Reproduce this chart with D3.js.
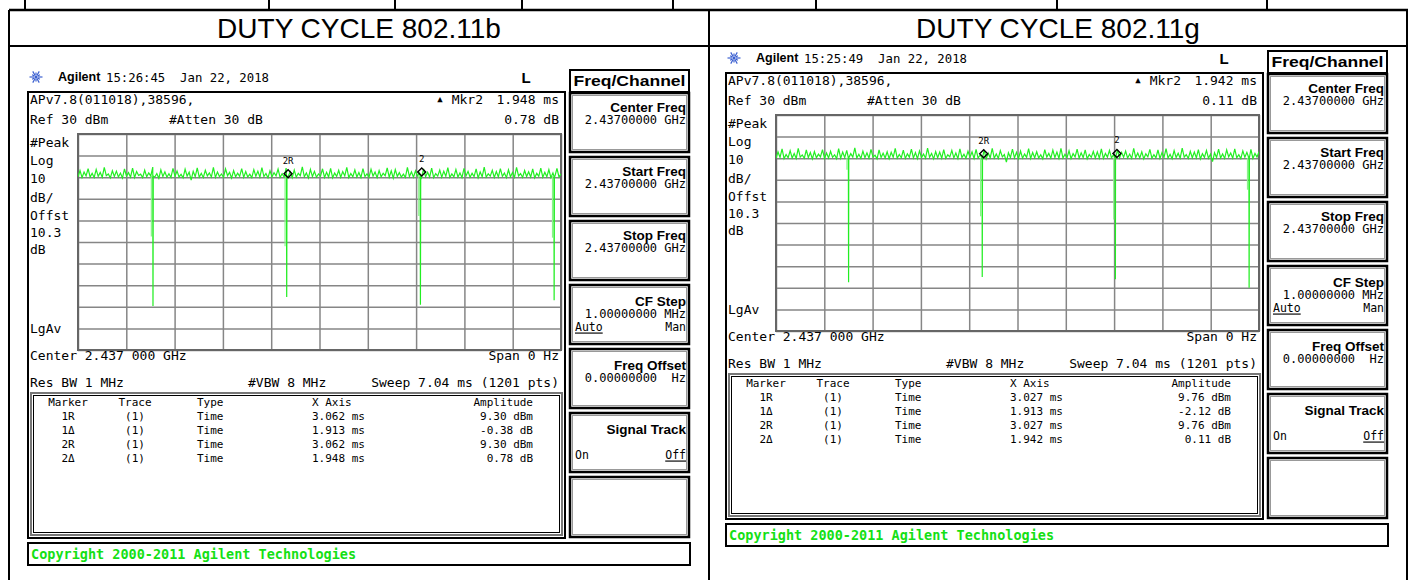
<!DOCTYPE html>
<html lang="en">
<head>
<meta charset="UTF-8">
<title>Duty Cycle 802.11b / 802.11g</title>
<script src="https://d3js.org/d3.v7.min.js"></script>
<style>
  body { margin: 0; background: #fff; }
  text { white-space: pre; }
</style>
</head>
<body>
<svg width="1413" height="580"></svg>
<script>
const panelTitles = ["DUTY CYCLE 802.11b", "DUTY CYCLE 802.11g"];
const timeStamps = ["15:26:45  Jan 22, 2018", "15:25:49  Jan 22, 2018"];
const deltaTime = ["1.948 ms", "1.942 ms"];
const deltaAmp = ["0.78 dB", "0.11 dB"];
const sweepMs = 7.04;
const refDbm = 30;
const dbPerDiv = 10;
const divisions = 10;

// trace samples (dBm), evenly spaced over the sweep
const noise11b = [
  10.2, 13.1, 9.8, 12.4, 10.6, 14.0, 10.1, 11.8, 9.9, 13.6, 10.4, 12.2, 10.0, 14.5, 10.7, 11.5, 9.7, 13.0, 10.3, 12.8,
  10.1, 11.9, 9.6, 13.8, 10.5, 12.1, 10.0, 14.2, 9.9, 12.6, 10.8, 11.4, 9.8, 13.3, 10.2, 12.0, 10.6, 14.7, 10.1, 11.7,
  9.5, 13.4, 10.3, 12.5, 10.0, 11.6, 9.9, 14.1, 10.4, 12.9, 10.1, 11.3, 9.7, 13.7, 10.5, 12.3, 8.6, 12.7, 10.2, 14.3,
  10.0, 11.8, 9.8, 13.2, 10.6, 12.0, 10.1, 14.6, 9.9, 12.4, 10.3, 11.5, 10.0, 13.9, 10.7, 12.2, 9.6, 13.1, 10.2, 11.9,
  10.4, 14.0, 9.9, 12.6, 10.1, 11.4, 9.8, 13.5, 10.5, 12.8, 10.0, 14.4, 10.3, 11.7, 9.7, 13.0, 10.2, 12.1, 10.6, 13.8,
  9.9, 11.6, 10.1, 14.2, 10.4, 12.5, 9.8, 13.3, 10.0, 11.8, 10.7, 14.8, 10.2, 12.0, 9.6, 13.6, 10.3, 12.7, 10.0, 11.5,
  10.5, 13.9, 9.9, 12.3, 10.1, 14.1, 9.7, 11.9, 10.4, 13.2, 10.0, 12.6, 10.6, 14.5, 9.8, 11.7, 10.2, 13.4, 10.1, 12.2,
  9.9, 14.0, 10.3, 11.6, 10.0, 13.7, 10.5, 12.4, 9.8, 13.1, 10.2, 11.8, 10.7, 14.3, 10.0, 12.9, 9.6, 13.5, 10.4, 12.1,
  10.1, 11.4, 9.9, 14.6, 10.3, 12.5, 10.0, 13.0, 10.6, 11.9, 9.7, 13.8, 10.2, 12.3, 10.1, 14.2, 9.8, 11.7, 10.5, 13.3,
  10.0, 12.8, 10.4, 14.4, 9.9, 11.5, 10.2, 13.6, 10.1, 12.0, 9.8, 14.1, 10.6, 12.7, 10.0, 11.8, 10.3, 13.9, 9.7, 12.4,
  10.2, 14.7, 10.0, 11.6, 10.5, 13.2, 9.9, 12.6, 10.1, 14.0, 10.4, 11.9, 9.8, 13.4, 10.2, 12.2, 10.0, 14.5, 10.6, 11.7,
  9.9, 13.1, 10.3, 12.5, 10.1, 13.8, 9.7, 11.8, 10.4, 14.2, 10.0, 12.3, 10.2, 13.5, 9.8, 12.0, 10.5, 14.1, 10.1, 11.6
];
const noise11g = [
  10.0, 12.9, 10.4, 14.3, 9.8, 11.7, 10.2, 13.5, 10.1, 12.2, 9.9, 14.6, 10.5, 11.5, 10.0, 13.8, 10.3, 12.6, 9.7, 13.1,
  10.2, 11.9, 10.6, 14.0, 9.9, 12.4, 10.1, 13.2, 10.4, 11.6, 9.8, 14.4, 10.0, 12.8, 10.3, 13.6, 9.6, 12.1, 10.5, 14.8,
  10.1, 11.8, 9.9, 13.3, 10.2, 12.5, 10.0, 14.1, 10.6, 11.4, 9.7, 13.9, 10.3, 12.3, 10.1, 13.0, 9.8, 12.7, 10.4, 14.5,
  10.0, 11.7, 10.2, 13.7, 9.9, 12.0, 10.5, 14.2, 10.1, 12.6, 9.8, 13.4, 10.3, 11.9, 10.0, 14.7, 10.4, 12.2, 9.7, 13.1,
  10.2, 12.8, 10.0, 14.0, 9.9, 11.6, 10.6, 13.6, 10.1, 12.4, 9.8, 14.3, 10.3, 11.8, 10.0, 13.2, 10.5, 12.9, 9.9, 14.1,
  10.1, 11.5, 10.4, 13.8, 9.7, 12.3, 10.2, 14.6, 10.0, 12.0, 9.9, 13.5, 10.6, 11.7, 8.2, 12.5, 10.3, 14.2, 10.1, 12.7,
  9.8, 13.3, 10.0, 11.9, 10.4, 14.4, 9.9, 12.6, 10.2, 13.0, 10.1, 11.6, 9.7, 14.0, 10.5, 12.2, 10.0, 13.7, 10.3, 12.8,
  9.9, 14.5, 10.1, 11.8, 10.2, 13.4, 9.8, 12.1, 10.6, 14.2, 10.0, 12.5, 10.3, 13.9, 9.7, 11.7, 10.4, 13.1, 10.1, 12.9,
  10.0, 14.3, 9.9, 12.2, 10.5, 13.6, 10.2, 11.5, 9.8, 14.0, 10.1, 12.7, 10.4, 13.3, 10.0, 11.9, 9.9, 14.6, 10.3, 12.4,
  10.1, 13.0, 9.7, 12.0, 10.6, 14.1, 10.0, 11.6, 10.2, 13.8, 9.9, 12.6, 10.4, 14.4, 10.1, 11.8, 9.8, 13.5, 10.3, 12.3,
  10.0, 14.7, 10.5, 11.7, 9.9, 13.2, 10.2, 12.8, 10.1, 14.0, 9.7, 12.1, 10.4, 13.6, 10.0, 11.9, 8.4, 12.5, 10.3, 14.2,
  10.1, 12.0, 9.9, 13.9, 10.6, 12.4, 10.0, 14.3, 10.2, 11.6, 9.8, 13.4, 10.4, 12.7, 10.1, 14.1, 9.9, 12.2, 10.5, 13.0
];
// gaps between bursts: time (ms), level before, depth of faint pass, bottom (dBm)
const dips11b = [
  { t: 1.091, hi: 10.5, mid: -17.5, lo: -49.6 },
  { t: 3.040, hi: 10.5, mid: -22.0, lo: -45.5 },
  { t: 4.989, hi: 10.5, mid: -8.0, lo: -49.0 },
  { t: 6.938, hi: 10.5, mid: -18.0, lo: -47.0 }
];
const dips11g = [
  { t: 1.056, hi: 10.2, mid: 4.7, lo: -47.4 },
  { t: 3.004, hi: 10.2, mid: -16.9, lo: -45.0 },
  { t: 4.945, hi: 10.2, mid: -18.4, lo: -46.0 },
  { t: 6.894, hi: 10.2, mid: -4.6, lo: -50.0 }
];
// marker 2: reference time/amplitude, delta time/amplitude
const markerTimes = [[3.062, 1.948], [3.027, 1.942]];
const markerAmps = [[9.30, 0.78], [9.76, 0.11]];

const markerHeader = ["Marker", "Trace", "Type", "X Axis", "Amplitude"];
const markerRows11b = [
  ["1R", "(1)", "Time", "3.062 ms", "9.30 dBm"],
  ["1\u0394", "(1)", "Time", "1.913 ms", "-0.38 dB"],
  ["2R", "(1)", "Time", "3.062 ms", "9.30 dBm"],
  ["2\u0394", "(1)", "Time", "1.948 ms", "0.78 dB"]
];
const markerRows11g = [
  ["1R", "(1)", "Time", "3.027 ms", "9.76 dBm"],
  ["1\u0394", "(1)", "Time", "1.913 ms", "-2.12 dB"],
  ["2R", "(1)", "Time", "3.027 ms", "9.76 dBm"],
  ["2\u0394", "(1)", "Time", "1.942 ms", "0.11 dB"]
];
const softKeys = [
  ["Center Freq", "2.43700000 GHz"],
  ["Start Freq", "2.43700000 GHz"],
  ["Stop Freq", "2.43700000 GHz"],
  ["CF Step", "1.00000000 MHz", "Auto", "Man"],
  ["Freq Offset", "0.00000000  Hz"],
  ["Signal Track", "", "On", "Off"],
  [""]
];
const sideLabels = ["#Peak", "Log", "10", "dB/", "Offst", "10.3", "dB"];

// ---- drawing ----
const svg = d3.select("svg");
const MONO = "'DejaVu Sans Mono', monospace";
const SANS = "'Liberation Sans', Arial, sans-serif";
const GREEN = "#22ee22";

function label(g, x, y, s, o = {}) {
  const t = g.append("text")
    .attr("x", x).attr("y", y)
    .attr("dominant-baseline", "central")
    .attr("font-family", o.family || MONO)
    .attr("font-size", o.size || 13)
    .attr("font-weight", o.weight || "normal")
    .attr("fill", o.fill || "#000")
    .attr("text-anchor", o.anchor || "start")
    .text(s);
  if (o.width) t.attr("textLength", o.width).attr("lengthAdjust", "spacingAndGlyphs");
  if (o.underline) t.attr("text-decoration", "underline");
  return t;
}

function hline(g, x1, x2, y, w, c) {
  g.append("line").attr("x1", x1).attr("x2", x2).attr("y1", y).attr("y2", y)
    .attr("stroke", c || "#000").attr("stroke-width", w || 2);
}
function vline(g, x, y1, y2, w, c) {
  g.append("line").attr("x1", x).attr("x2", x).attr("y1", y1).attr("y2", y2)
    .attr("stroke", c || "#000").attr("stroke-width", w || 2);
}

// outer document table
[25, 269, 395, 522, 673, 816, 1057, 1267].forEach(x => vline(svg, x, 0, 10, 2));
hline(svg, 9, 1408, 10, 2.5);
hline(svg, 9, 1408, 46, 2);
[9, 709, 1407].forEach(x => vline(svg, x, 10, 580, 2));
label(svg, 359, 28, panelTitles[0], { family: SANS, size: 28, anchor: "middle" });
label(svg, 1058, 28, panelTitles[1], { family: SANS, size: 28, anchor: "middle" });

function drawPanel(k, dx, dy, noise, dips, rows) {
  const g = svg.append("g").attr("transform", `translate(${dx},${dy})`);

  // title line with Agilent spark
  const logo = g.append("g").attr("transform", "translate(36,77)");
  d3.range(12).forEach(i => {
    const a = i * Math.PI / 6, r = i % 2 ? 4.5 : 6.5;
    logo.append("line")
      .attr("x1", 1.8 * Math.cos(a)).attr("y1", 1.8 * Math.sin(a))
      .attr("x2", r * Math.cos(a)).attr("y2", r * Math.sin(a))
      .attr("stroke", "#3a5fd0").attr("stroke-width", 1.2);
  });
  logo.append("circle").attr("r", 1.5).attr("fill", "#3a5fd0");
  label(g, 58, 77, "Agilent", { family: SANS, size: 12.5, weight: "bold" });
  label(g, 106, 77, timeStamps[k], { size: 12.5, width: 163 });
  label(g, 526, 77, "L", { family: SANS, size: 15, weight: "bold", anchor: "middle" });

  // main display frame
  g.append("rect").attr("x", 28).attr("y", 92).attr("width", 537).attr("height", 446)
    .attr("fill", "none").attr("stroke", "#000").attr("stroke-width", 2);
  label(g, 30, 99, "APv7.8(011018),38596,");
  label(g, 440, 99, "\u25B2", { size: 9, anchor: "middle" });
  label(g, 483, 99, "Mkr2", { anchor: "end" });
  label(g, 559, 99, deltaTime[k], { anchor: "end" });
  label(g, 30, 119, "Ref 30 dBm");
  label(g, 169, 119, "#Atten 30 dB");
  label(g, 559, 119, deltaAmp[k], { anchor: "end" });
  const labelY = [142, 160, 178, 197, 215, 232, 249];
  sideLabels.forEach((s, i) => label(g, 30, labelY[i], s));
  label(g, 30, 328, "LgAv");

  // graticule
  const gx0 = 78, gx1 = 561, gy0 = 134, gy1 = 350;
  const x = d3.scaleLinear().domain([0, sweepMs]).range([gx0, gx1]);
  const y = d3.scaleLinear().domain([refDbm - divisions * dbPerDiv, refDbm]).range([gy1, gy0]);
  const xTicks = d3.range(divisions + 1).map(i => i * sweepMs / divisions);
  const yTicks = d3.range(divisions + 1).map(i => refDbm - i * dbPerDiv);

  const gridX = g.append("g").attr("transform", `translate(0,${gy1})`)
    .call(d3.axisBottom(x).tickValues(xTicks).tickSize(-(gy1 - gy0)).tickFormat(""));
  const gridY = g.append("g").attr("transform", `translate(${gx0},0)`)
    .call(d3.axisLeft(y).tickValues(yTicks).tickSize(-(gx1 - gx0)).tickFormat(""));
  [gridX, gridY].forEach(a => {
    a.select(".domain").remove();
    a.selectAll("line").attr("stroke", "#868686").attr("stroke-width", 1.5);
  });
  g.append("rect").attr("x", gx0).attr("y", gy0).attr("width", gx1 - gx0).attr("height", gy1 - gy0)
    .attr("fill", "none").attr("stroke", "#666").attr("stroke-width", 2);

  // trace
  const step = sweepMs / (noise.length - 1);
  const pts = noise.map((v, i) => [i * step, v]);
  dips.forEach(d => pts.push([d.t - 0.001, d.hi], [d.t + 0.002, d.lo], [d.t + 0.006, d.hi]));
  pts.sort((a, b) => a[0] - b[0]);
  const clipId = "clip" + k;
  g.append("clipPath").attr("id", clipId).append("rect")
    .attr("x", gx0).attr("y", gy0 - 20).attr("width", gx1 - gx0).attr("height", gy1 - gy0 + 20);
  const tr = g.append("g").attr("clip-path", `url(#${clipId})`);
  tr.selectAll("line.faint").data(dips).join("line").attr("class", "faint")
    .attr("x1", d => x(d.t) - 1.5).attr("x2", d => x(d.t) - 1.5)
    .attr("y1", d => y(d.hi)).attr("y2", d => y(d.mid))
    .attr("stroke", "#8cf28c").attr("stroke-width", 1.2);
  tr.append("path").datum(pts)
    .attr("d", d3.line().x(d => x(d[0])).y(d => y(d[1])))
    .attr("fill", "none").attr("stroke", GREEN).attr("stroke-width", 1.2);

  // marker 2 (reference and delta)
  const [tR, tD] = markerTimes[k], [aR, aD] = markerAmps[k];
  const mk = [
    { t: tR, a: aR, name: "2R" },
    { t: tR + tD, a: aR + aD, name: "2" }
  ];
  mk.forEach(m => {
    const mx = x(m.t), my = y(m.a);
    g.append("path")
      .attr("d", `M${mx},${my - 9}L${mx + 4},${my - 5}L${mx},${my - 1}L${mx - 4},${my - 5}Z`)
      .attr("fill", "none").attr("stroke", "#000").attr("stroke-width", 1.4);
    label(g, mx, my - 18, m.name, { size: 9, anchor: "middle" });
  });

  // bottom annotation lines
  label(g, 30, 355, "Center 2.437 000 GHz");
  label(g, 559, 355, "Span 0 Hz", { anchor: "end" });
  label(g, 30, 382, "Res BW 1 MHz");
  label(g, 248, 382, "#VBW 8 MHz");
  label(g, 559, 382, "Sweep 7.04 ms (1201 pts)", { anchor: "end" });

  // marker table
  g.append("rect").attr("x", 31).attr("y", 393).attr("width", 531).attr("height", 142)
    .attr("fill", "none").attr("stroke", "#777").attr("stroke-width", 2);
  g.append("rect").attr("x", 33.5).attr("y", 395.5).attr("width", 526).attr("height", 137)
    .attr("fill", "none").attr("stroke", "#000").attr("stroke-width", 1);
  const colX = [68, 135, 197, 312, 533];
  const colAnchor = ["middle", "middle", "start", "start", "end"];
  [markerHeader].concat(rows).forEach((r, ri) => {
    r.forEach((s, ci) => label(g, colX[ci], 402 + ri * 14.2, s, { size: 11, anchor: colAnchor[ci] }));
  });

  // soft keys
  g.append("rect").attr("x", 570).attr("y", 70).attr("width", 119).attr("height", 22)
    .attr("fill", "none").attr("stroke", "#000").attr("stroke-width", 2);
  label(g, 629.5, 81, "Freq/Channel", { family: SANS, size: 14, weight: "bold", anchor: "middle", width: 112 });
  softKeys.forEach((sk, i) => {
    const top = 93 + 64 * i, h = i === 6 ? 60 : 59;
    g.append("rect").attr("x", 570).attr("y", top).attr("width", 119).attr("height", h)
      .attr("fill", "none").attr("stroke", "#000").attr("stroke-width", 2.5);
    g.append("rect").attr("x", 572.5).attr("y", top + 2.5).attr("width", 114).attr("height", h - 5)
      .attr("fill", "none").attr("stroke", "#999").attr("stroke-width", 1);
    if (!sk[0]) return;
    const tall = i >= 3;
    label(g, 686, top + (tall ? 16 : 14), sk[0], { family: SANS, size: 13.5, weight: "bold", anchor: "end" });
    if (sk[1]) label(g, 686, top + (tall ? 29 : 27), sk[1], { size: 12, anchor: "end" });
    if (sk[2]) {
      label(g, 575, top + 41.5, sk[2], { size: 11.5, underline: sk[2] === "Auto" });
      label(g, 686, top + 41.5, sk[3], { size: 11.5, anchor: "end", underline: sk[3] === "Off" });
    }
  });

  // copyright strip
  g.append("rect").attr("x", 28).attr("y", 543).attr("width", 662).attr("height", 22)
    .attr("fill", "none").attr("stroke", "#000").attr("stroke-width", 2);
  label(g, 31, 554, "Copyright 2000-2011 Agilent Technologies",
    { size: 13.5, weight: "bold", fill: "#14e014" });
}

drawPanel(0, 0, 0, noise11b, dips11b, markerRows11b);
drawPanel(1, 698, -19, noise11g, dips11g, markerRows11g);
</script>
</body>
</html>
